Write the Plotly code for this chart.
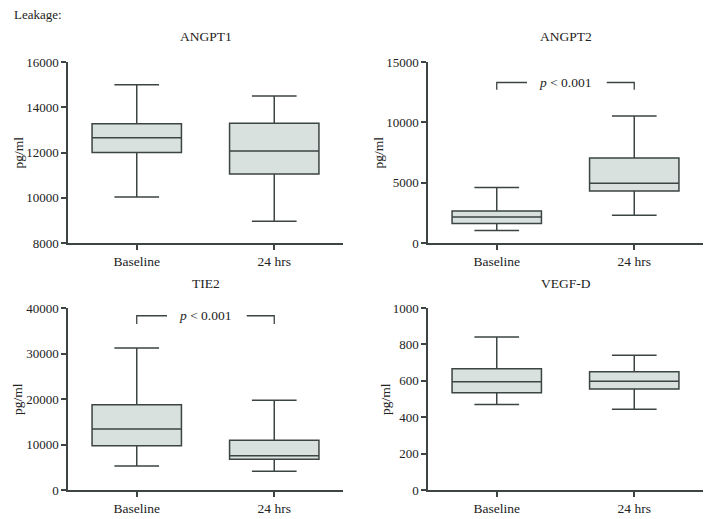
import plotly.graph_objects as go

categories = ["Baseline", "24 hrs"]

panel_titles = ["ANGPT1", "ANGPT2", "TIE2", "VEGF-D"]

angpt1_lower = [10030, 8960]
angpt1_q1 = [12000, 11050]
angpt1_median = [12650, 12070]
angpt1_q3 = [13270, 13290]
angpt1_upper = [15000, 14500]

angpt2_lower = [1040, 2300]
angpt2_q1 = [1620, 4300]
angpt2_median = [2150, 4950]
angpt2_q3 = [2650, 7050]
angpt2_upper = [4600, 10530]

tie2_lower = [5300, 4100]
tie2_q1 = [9700, 6750]
tie2_median = [13400, 7550]
tie2_q3 = [18750, 10950]
tie2_upper = [31200, 19700]

vegfd_lower = [470, 443]
vegfd_q1 = [535, 555]
vegfd_median = [595, 598]
vegfd_q3 = [666, 650]
vegfd_upper = [841, 740]

y_ranges = [[8000, 16000], [0, 15000], [0, 40000], [0, 1000]]
y_dticks = [2000, 5000, 10000, 200]

# significance brackets: panel index -> (bracket top, bracket foot)
p_brackets = {1: (13300, 12700), 2: (38300, 36500)}
p_text = "<i>p</i> < 0.001"

W, H = 712, 519
LINE = "#3c4444"
FILL = "#d9e1df"
FONT = "Liberation Serif"
TXT = "#222222"

# panel pixel geometry (left, right, top, bottom)
panels_px = [(68, 343, 62, 243), (428, 703, 62, 243), (68, 343, 308, 490), (428, 703, 308, 490)]
ytitle_px = [18, 378, 17, 385]

data_sets = [
    (angpt1_lower, angpt1_q1, angpt1_median, angpt1_q3, angpt1_upper),
    (angpt2_lower, angpt2_q1, angpt2_median, angpt2_q3, angpt2_upper),
    (tie2_lower, tie2_q1, tie2_median, tie2_q3, tie2_upper),
    (vegfd_lower, vegfd_q1, vegfd_median, vegfd_q3, vegfd_upper),
]

fig = go.Figure()
positions = list(range(len(categories)))
annotations = []
layout = {}

for i, (lo, q1, med, q3, up) in enumerate(data_sets):
    ax = "" if i == 0 else str(i + 1)
    xa, ya = "x" + ax, "y" + ax
    fig.add_trace(go.Box(
        x=positions, lowerfence=lo, q1=q1, median=med, q3=q3, upperfence=up,
        xaxis=xa, yaxis=ya, width=0.65, whiskerwidth=0.5,
        fillcolor=FILL, line=dict(color=LINE, width=1.5),
        boxpoints=False, showlegend=False, hoverinfo="skip",
    ))
    l, r, t, b = panels_px[i]
    common = dict(showline=True, linecolor=LINE, linewidth=1.5, ticks="outside",
                  ticklen=5, tickwidth=1.5, tickcolor=LINE, showgrid=False,
                  zeroline=False, mirror=False, automargin=False)
    layout["xaxis" + ax] = dict(domain=[l / W, r / W], anchor=ya, range=[-0.5, 1.5],
                                tickvals=positions, ticktext=categories,
                                tickfont=dict(family=FONT, size=13.5, color=TXT), **common)
    layout["yaxis" + ax] = dict(domain=[1 - b / H, 1 - t / H], anchor=xa,
                                range=y_ranges[i], dtick=y_dticks[i], tickformat="d",
                                tickfont=dict(family=FONT, size=13, color=TXT), **common)
    annotations.append(dict(text=panel_titles[i], xref="paper", yref="paper",
                            x=(l + r) / 2 / W, y=1 - (t - 25) / H, showarrow=False,
                            xanchor="center", yanchor="middle",
                            font=dict(family=FONT, size=13.5, color=TXT)))
    annotations.append(dict(text="pg/ml", xref="paper", yref="paper", textangle=-90,
                            x=ytitle_px[i] / W, y=1 - (t + b) / 2 / H, showarrow=False,
                            xanchor="center", yanchor="middle",
                            font=dict(family=FONT, size=13.5, color=TXT)))
    if i in p_brackets:
        top, foot = p_brackets[i]
        for xs, ys in (([0, 0, 0.22], [foot, top, top]), ([0.8, 1, 1], [top, top, foot])):
            fig.add_trace(go.Scatter(x=xs, y=ys, xaxis=xa, yaxis=ya, mode="lines",
                                     line=dict(color=LINE, width=1.3), showlegend=False,
                                     hoverinfo="skip"))
        annotations.append(dict(text=p_text, x=0.5, y=top, xref=xa, yref=ya,
                                showarrow=False, xanchor="center", yanchor="middle",
                                font=dict(family=FONT, size=13.5, color=TXT)))

annotations.append(dict(text="Leakage:", xref="paper", yref="paper", x=12 / W, y=1 - 14 / H,
                        xanchor="left", yanchor="middle", showarrow=False,
                        font=dict(family=FONT, size=13, color=TXT)))

fig.update_layout(width=W, height=H, margin=dict(l=0, r=0, t=0, b=0, autoexpand=False),
                  paper_bgcolor="white", plot_bgcolor="white",
                  annotations=annotations, **layout)

fig.write_html("out.html", config={"displayModeBar": False},
               post_script="document.body.style.margin='0';document.body.style.overflow='hidden';")
